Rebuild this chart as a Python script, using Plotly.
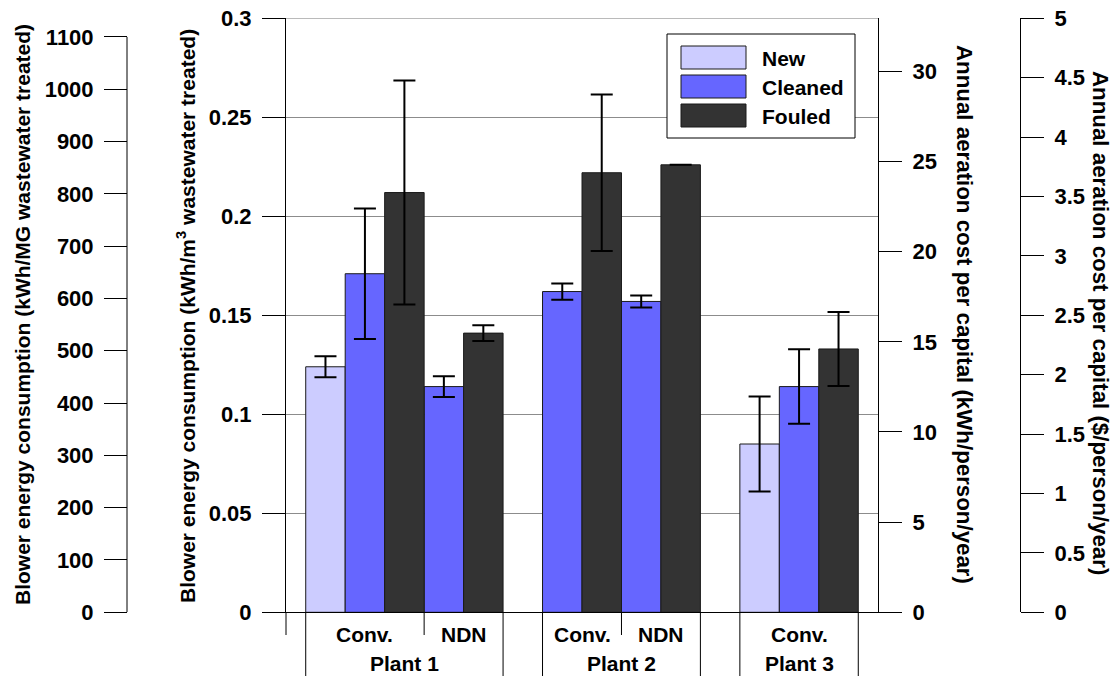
import plotly.graph_objects as go

# ---------------- data ----------------
plants = ["Plant 1", "Plant 2", "Plant 3"]
plant_configs = [["Conv.", "NDN"], ["Conv.", "NDN"], ["Conv."]]
series_names = ["New", "Cleaned", "Fouled"]
series_colors = ["#ccccff", "#6666ff", "#333333"]

# values per (plant, config) group in order:
# P1 Conv., P1 NDN, P2 Conv., P2 NDN, P3 Conv.   (kWh/m3)
new_vals = [0.124, None, None, None, 0.085]
cleaned_vals = [0.171, 0.114, 0.162, 0.157, 0.114]
fouled_vals = [0.212, 0.141, 0.222, 0.226, 0.133]
new_err = [0.0053, None, None, None, 0.024]
cleaned_err = [0.033, 0.0052, 0.0041, 0.003, 0.0188]
fouled_err = [0.0566, 0.004, 0.0395, None, 0.0187]

main_ticks = [0, 0.05, 0.1, 0.15, 0.2, 0.25, 0.3]
mg_ticks = [0, 100, 200, 300, 400, 500, 600, 700, 800, 900, 1000, 1100]
cap_ticks = [0, 5, 10, 15, 20, 25, 30]
cost_ticks = [0, 0.5, 1, 1.5, 2, 2.5, 3, 3.5, 4, 4.5, 5]

K_MG = 3785.41     # kWh/MG per kWh/m3
K_CAP = 109.8      # kWh/person/yr per kWh/m3
K_COST = 5 / 0.3   # $/person/yr per kWh/m3

all_vals = [new_vals, cleaned_vals, fouled_vals]
all_errs = [new_err, cleaned_err, fouled_err]

# ---------------- positions (slot layout) ----------------
W, H = 1116, 676
FONT = "Liberation Sans"
def px(x):
    return x / W
def py(y):
    return (H - y) / H

pos = {s: [] for s in range(3)}
vals = {s: [] for s in range(3)}
errs = {s: [] for s in range(3)}
group_centers = []
group_edges = []
plant_spans = []
slot = 1.0
g = 0
for pi, plant in enumerate(plants):
    if pi > 0:
        slot += 1.0  # gap slot between plants
    p_start = slot
    for ci, cfg in enumerate(plant_configs[pi]):
        g_start = slot
        for s in range(3):
            v = all_vals[s][g]
            if v is not None:
                pos[s].append(slot)
                vals[s].append(v)
                errs[s].append(all_errs[s][g])
                slot += 1.0
        group_centers.append(((g_start + slot - 1) / 2, cfg))
        if ci > 0:
            group_edges.append(g_start - 0.5)
        g += 1
    plant_spans.append((p_start - 0.5, slot - 0.5, plant))
x_max = slot - 0.5 + 0.5

fig = go.Figure()
for s in range(3):
    e = [x if x is not None else float("nan") for x in errs[s]]
    fig.add_trace(go.Bar(
        x=pos[s], y=vals[s], width=1.0, name=series_names[s],
        marker=dict(color=series_colors[s], line=dict(color="#1a1a1a", width=1)),
        error_y=dict(type="data", array=e, visible=True, color="black", thickness=2, width=11),
        showlegend=False, xaxis="x", yaxis="y",
    ))

# invisible companions for the secondary scales
all_pos = pos[2]
for ax, k in (("y2", K_CAP), ("y3", K_COST), ("y4", K_MG)):
    fig.add_trace(go.Scatter(x=all_pos, y=[v * k for v in vals[2]], mode="markers",
                             marker=dict(opacity=0), hoverinfo="skip", showlegend=False,
                             xaxis="x", yaxis=ax))

tickfont = dict(family=FONT, size=22, color="black", weight="bold")
y_dom = [py(612.3), py(18.3)]
common = dict(ticks="outside", ticklen=23, tickwidth=1, tickcolor="black", tickfont=tickfont,
              zeroline=False, ticklabelstandoff=6, automargin=False)

fig.update_layout(
    width=W, height=H, margin=dict(l=0, r=0, t=0, b=0, autoexpand=False),
    paper_bgcolor="white", plot_bgcolor="white",
    barmode="overlay", showlegend=False,
    xaxis=dict(domain=[px(286), px(878)], range=[0, x_max], showgrid=False, zeroline=False,
               showticklabels=False, ticks="", showline=True, linecolor="black", linewidth=1,
               fixedrange=True, automargin=False),
    yaxis=dict(domain=y_dom, range=[0, 0.3], tickvals=main_ticks, showline=True,
               linecolor="black", linewidth=1, showgrid=True, gridcolor="#8c8c8c", gridwidth=1,
               **common),
    yaxis2=dict(overlaying="y", side="right", anchor="x", range=[0, 0.3 * K_CAP],
                tickvals=cap_ticks, showline=True, linecolor="black", showgrid=False, **common),
    yaxis3=dict(overlaying="y", side="right", anchor="free", position=px(1020),
                range=[0, 0.3 * K_COST], tickvals=cost_ticks, showline=True, linecolor="black",
                showgrid=False, **common),
    yaxis4=dict(overlaying="y", side="left", anchor="free", position=px(127),
                range=[0, 0.3 * K_MG], tickvals=mg_ticks, showline=False, showgrid=False,
                **common),
)

shapes = []
# top gridline at the last main tick
shapes.append(dict(type="line", xref="x", yref="y", x0=0, x1=x_max,
                   y0=main_ticks[-1], y1=main_ticks[-1], line=dict(color="#8c8c8c", width=1)))
# leftmost axis line spans only to the top tick
shapes.append(dict(type="line", xref="paper", yref="y4", x0=px(127), x1=px(127),
                   y0=mg_ticks[0], y1=mg_ticks[-1], line=dict(color="black", width=1)))
# main axis line extends below the category axis
shapes.append(dict(type="line", xref="paper", yref="paper", x0=px(286), x1=px(286),
                   y0=py(612.3), y1=py(635), line=dict(color="black", width=1)))
for e in group_edges:
    shapes.append(dict(type="line", xref="x", yref="paper", x0=e, x1=e,
                       y0=py(612.3), y1=py(635), line=dict(color="black", width=1)))
for a, b, _ in plant_spans:
    for e in (a, b):
        shapes.append(dict(type="line", xref="x", yref="paper", x0=e, x1=e,
                           y0=py(612.3), y1=py(676), line=dict(color="black", width=1)))

annotations = []
labfont = dict(family=FONT, size=21, color="black", weight="bold")
for c, cfg in group_centers:
    annotations.append(dict(x=c, y=py(634), xref="x", yref="paper", text=cfg, showarrow=False,
                            font=labfont, xanchor="center", yanchor="middle"))
for a, b, plant in plant_spans:
    annotations.append(dict(x=(a + b) / 2, y=py(663), xref="x", yref="paper", text=plant,
                            showarrow=False, font=labfont, xanchor="center", yanchor="middle"))

titles = [
    (22, 315, -90, 21, "Blower energy consumption (kWh/MG wastewater treated)"),
    (186, 316, -90, 21, "Blower energy consumption (kWh/m<sup>3</sup> wastewater treated)"),
    (965, 314, 90, 22.3, "Annual aeration cost per capital (kWh/person/year)"),
    (1101, 323, 90, 22.3, "Annual aeration cost per capital ($/person/year)"),
]
for x, y, ang, fs, t in titles:
    annotations.append(dict(x=px(x), y=py(y), xref="paper", yref="paper", text=t, textangle=ang,
                            showarrow=False,
                            font=dict(family=FONT, size=fs, color="black", weight="bold"),
                            xanchor="center", yanchor="middle"))

# legend box
shapes.append(dict(type="rect", xref="paper", yref="paper", x0=px(667), x1=px(855),
                   y0=py(34), y1=py(138), line=dict(color="black", width=1), fillcolor="white",
                   layer="above"))
leg_y = [57.5, 86.5, 115.5]
for s in range(3):
    shapes.append(dict(type="rect", xref="paper", yref="paper", x0=px(681), x1=px(746),
                       y0=py(leg_y[s] - 11.5), y1=py(leg_y[s] + 11.5),
                       line=dict(color="#1a1a1a", width=1), fillcolor=series_colors[s],
                       layer="above"))
    annotations.append(dict(x=px(760), y=py(leg_y[s] + 1), xref="paper", yref="paper",
                            text=series_names[s], showarrow=False, font=labfont,
                            xanchor="left", yanchor="middle"))

fig.update_layout(shapes=shapes, annotations=annotations)
fig.write_html("out.html", post_script="document.body.style.margin='0';",
               config={"displayModeBar": False})
